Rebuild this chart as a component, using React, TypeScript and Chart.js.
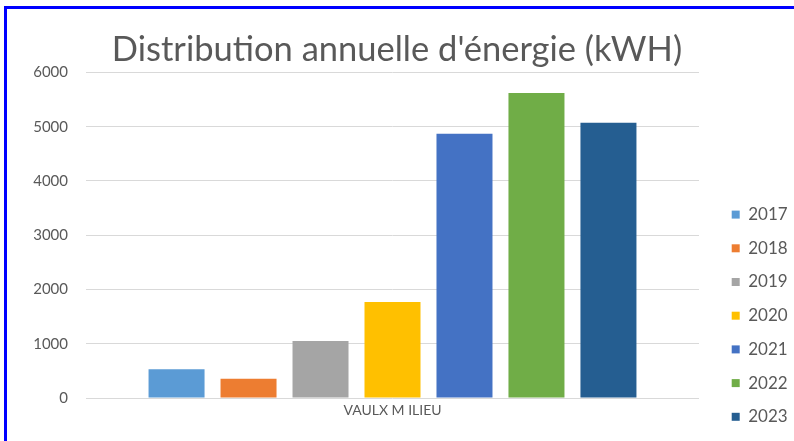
import React, { useEffect, useRef } from "react";
import { Chart, registerables } from "chart.js";

Chart.register(...registerables);

const categories = ["VAULX M ILIEU"];
const years = ["2017", "2018", "2019", "2020", "2021", "2022", "2023"];
const values = [530, 355, 1050, 1770, 4870, 5620, 5070];
const colors = ["#5B9BD5", "#ED7D31", "#A5A5A5", "#FFC000", "#4472C4", "#70AD47", "#255E91"];
const yTicks = [0, 1000, 2000, 3000, 4000, 5000, 6000];
const titleText = "Distribution annuelle d'énergie (kWH)";

const FONT = "Lato, 'Open Sans', sans-serif";
const GREY = "#595959";

export default function App() {
  const ref = useRef<HTMLCanvasElement | null>(null);

  useEffect(() => {
    if (!ref.current) return;
    const chart = new Chart(ref.current, {
      type: "bar",
      data: {
        labels: categories,
        datasets: years.map((y, i) => ({
          label: y,
          data: [values[i]],
          backgroundColor: colors[i],
          borderWidth: 0,
          categoryPercentage: 0.822,
          barPercentage: 0.778,
        })),
      },
      options: {
        responsive: false,
        animation: false,
        layout: { padding: { top: 0, left: 0, right: 0, bottom: -1 } },
        plugins: {
          tooltip: { enabled: false },
          title: {
            display: true,
            text: titleText,
            color: GREY,
            font: { family: FONT, size: 34.5, weight: "normal" },
            padding: { top: 29, bottom: 2 },
          },
          legend: {
            display: true,
            position: "right",
            align: "end",
            maxWidth: 79,
            labels: {
              boxWidth: 8,
              boxHeight: 8,
              padding: 16.7,
              color: GREY,
              font: { family: FONT, size: 17 },
            },
          },
        },
        scales: {
          x: {
            grid: { display: false, drawTicks: false },
            border: { display: false },
            ticks: { color: GREY, font: { family: FONT, size: 14 }, padding: 4 },
            afterFit: (s: any) => {
              s.height = 44;
            },
          },
          y: {
            min: 0,
            max: 6000,
            afterBuildTicks: (s: any) => {
              s.ticks = yTicks.map((v) => ({ value: v }));
            },
            grid: { color: "#D9D9D9", lineWidth: 1, drawTicks: false },
            border: { display: false },
            ticks: {
              color: GREY,
              font: { family: FONT, size: 15 },
              padding: 18,
              callback: (v: any) => String(v),
            },
            afterFit: (s: any) => {
              s.width = 86;
            },
          },
          yRight: {
            type: "linear",
            position: "right",
            display: true,
            grid: { display: false, drawTicks: false },
            border: { display: false },
            ticks: { display: false },
            afterFit: (s: any) => {
              s.width = 16;
            },
          },
        },
      } as any,
    });
    return () => chart.destroy();
  }, []);

  return (
    <div style={{ position: "fixed", left: 0, top: 0, width: 794, height: 441, background: "#fff" }}>
      <canvas ref={ref} width={794} height={441} style={{ display: "block" }} />
      <div
        style={{
          position: "absolute",
          left: 4,
          top: 6,
          right: 0,
          bottom: 0,
          borderTop: "3px solid #0000FF",
          borderLeft: "3px solid #0000FF",
          pointerEvents: "none",
        }}
      />
    </div>
  );
}
